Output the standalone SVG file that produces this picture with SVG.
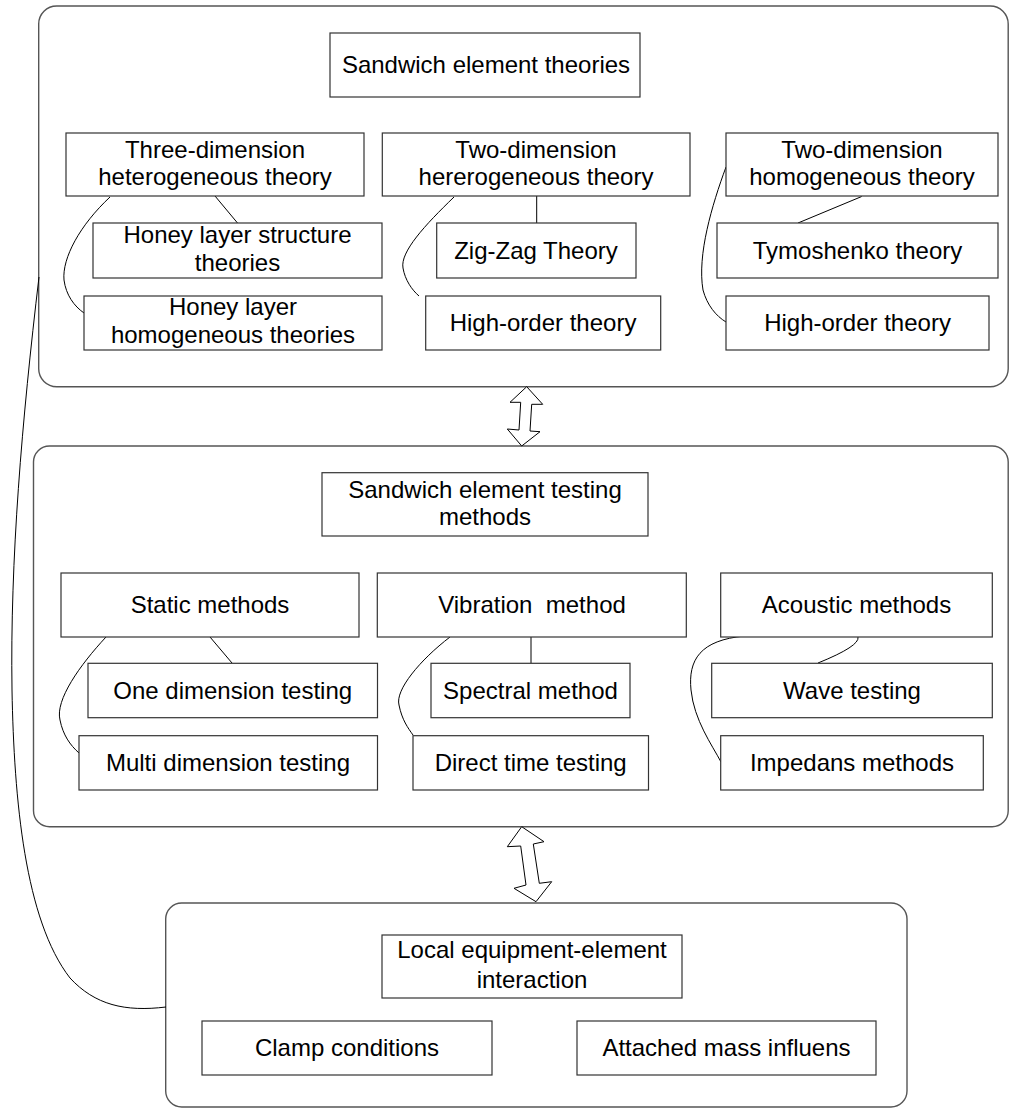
<svg xmlns="http://www.w3.org/2000/svg" width="1010" height="1108" viewBox="0 0 1010 1108">
<style>
.bg{fill:#fff}
.cont{fill:none;stroke:#555;stroke-width:1.4}
.box{fill:#fff;stroke:#333;stroke-width:1.2}
.t{font-family:"Liberation Sans",Arial,sans-serif;font-size:24px;fill:#000;text-anchor:middle}
.c{fill:none;stroke:#000;stroke-width:1}
.arr{fill:#fff;stroke:#000;stroke-width:1;stroke-linejoin:miter}
</style>
<rect class="bg" x="0" y="0" width="1010" height="1108"/>
<g id="containers">
<rect id="theories-panel" class="cont" x="38.7" y="6" width="969.5" height="380.7" rx="18"/>
<rect id="testing-panel" class="cont" x="33.5" y="446" width="974.7" height="380.7" rx="16"/>
<rect id="local-panel" class="cont" x="165.7" y="903" width="741.3" height="204" rx="16"/>
</g>
<g id="connectors">
<path class="c" d="M39 277 C22 420,10 560,12 690 C14 800,25 920,70 978 C95 1005,125 1012,166 1007"/>
<line class="c" x1="215" y1="196" x2="237.5" y2="223"/>
<path class="c" d="M110 197 C80 225,62 258,64 280 C66 295,74 306,84 313"/>
<line class="c" x1="536.7" y1="196" x2="536.7" y2="223"/>
<path class="c" d="M454 197 C425 225,400 252,403 268 C405 280,412 290,419 296"/>
<line class="c" x1="861.7" y1="196.5" x2="798" y2="223"/>
<path class="c" d="M726 167 C712 205,697 255,703 290 C707 305,716 316,726 322"/>
<line class="c" x1="210" y1="637" x2="232" y2="663"/>
<path class="c" d="M106 637 C80 665,55 700,60 720 C63 735,70 745,79 753"/>
<line class="c" x1="531" y1="633" x2="531" y2="663"/>
<path class="c" d="M450 637 C420 660,395 690,399 705 C402 720,408 728,413 735"/>
<path class="c" d="M858 637 Q860 646,818 663"/>
<path class="c" d="M745 636 C700 640,688 660,691 690 C694 720,712 745,721 762"/>
<polygon class="arr" points="526.7,386.7 542.7,404.3 531.7,404.3 530,431 540,431.7 521.7,446 507.3,429 519,430 520.7,402.3 510,402.3"/>
<polygon class="arr" points="521.7,826.7 544,841.7 533.3,844 539.3,883.3 551.7,881.7 536,901.7 514,888.3 526,885 520.7,846 507.3,846.7"/>
</g>
<g id="n-theories"><rect class="box" x="330" y="33" width="310" height="64"/><text class="t" x="486" y="73">Sandwich element theories</text></g>
<g id="n-3d-het"><rect class="box" x="66" y="133" width="298" height="63"/><text class="t" x="215" y="158">Three-dimension</text><text class="t" x="215" y="185">heterogeneous theory</text></g>
<g id="n-2d-het"><rect class="box" x="382.3" y="133" width="307.7" height="63"/><text class="t" x="536" y="158">Two-dimension</text><text class="t" x="536" y="185">hererogeneous theory</text></g>
<g id="n-2d-hom"><rect class="box" x="726" y="133" width="272" height="63"/><text class="t" x="862" y="158">Two-dimension</text><text class="t" x="862" y="185">homogeneous theory</text></g>
<g id="n-honey-struct"><rect class="box" x="93" y="223" width="289" height="55"/><text class="t" x="237.5" y="243">Honey layer structure</text><text class="t" x="237.5" y="271">theories</text></g>
<g id="n-zigzag"><rect class="box" x="436.7" y="223" width="199.3" height="55"/><text class="t" x="536" y="259">Zig-Zag Theory</text></g>
<g id="n-tymo"><rect class="box" x="717" y="223" width="281" height="55"/><text class="t" x="857.5" y="259">Tymoshenko theory</text></g>
<g id="n-honey-hom"><rect class="box" x="84" y="296" width="298" height="54"/><text class="t" x="233" y="315">Honey layer</text><text class="t" x="233" y="343">homogeneous theories</text></g>
<g id="n-high1"><rect class="box" x="425.7" y="296" width="235" height="54"/><text class="t" x="543" y="331">High-order theory</text></g>
<g id="n-high2"><rect class="box" x="726" y="296" width="263" height="54"/><text class="t" x="857.5" y="331">High-order theory</text></g>
<g id="n-testing"><rect class="box" x="322" y="472.7" width="326" height="63.3"/><text class="t" x="485" y="498">Sandwich element testing</text><text class="t" x="485" y="525">methods</text></g>
<g id="n-static"><rect class="box" x="61" y="573" width="298" height="64"/><text class="t" x="210" y="613">Static methods</text></g>
<g id="n-vibration"><rect class="box" x="377.3" y="573" width="309" height="64"/><text class="t" x="532" y="613" xml:space="preserve">Vibration  method</text></g>
<g id="n-acoustic"><rect class="box" x="720.7" y="573" width="271.6" height="64"/><text class="t" x="856.5" y="613">Acoustic methods</text></g>
<g id="n-one"><rect class="box" x="88" y="663.3" width="289.5" height="54.4"/><text class="t" x="232.7" y="699">One dimension testing</text></g>
<g id="n-spectral"><rect class="box" x="431" y="663.3" width="199" height="54.4"/><text class="t" x="530.5" y="699">Spectral method</text></g>
<g id="n-wave"><rect class="box" x="711.7" y="663.3" width="280.6" height="54.4"/><text class="t" x="852" y="699">Wave testing</text></g>
<g id="n-multi"><rect class="box" x="79" y="735.7" width="298.5" height="54.3"/><text class="t" x="228" y="771">Multi dimension testing</text></g>
<g id="n-direct"><rect class="box" x="413" y="735.7" width="235.5" height="54.3"/><text class="t" x="530.7" y="771">Direct time testing</text></g>
<g id="n-impedans"><rect class="box" x="720.7" y="735.7" width="262.6" height="54.3"/><text class="t" x="852" y="771">Impedans methods</text></g>
<g id="n-local"><rect class="box" x="382" y="935" width="300" height="63"/><text class="t" x="532" y="958">Local equipment-element</text><text class="t" x="532" y="988">interaction</text></g>
<g id="n-clamp"><rect class="box" x="202" y="1021" width="290" height="54"/><text class="t" x="347" y="1056">Clamp conditions</text></g>
<g id="n-mass"><rect class="box" x="577" y="1021" width="299" height="54"/><text class="t" x="726.5" y="1056">Attached mass influens</text></g>
</svg>
